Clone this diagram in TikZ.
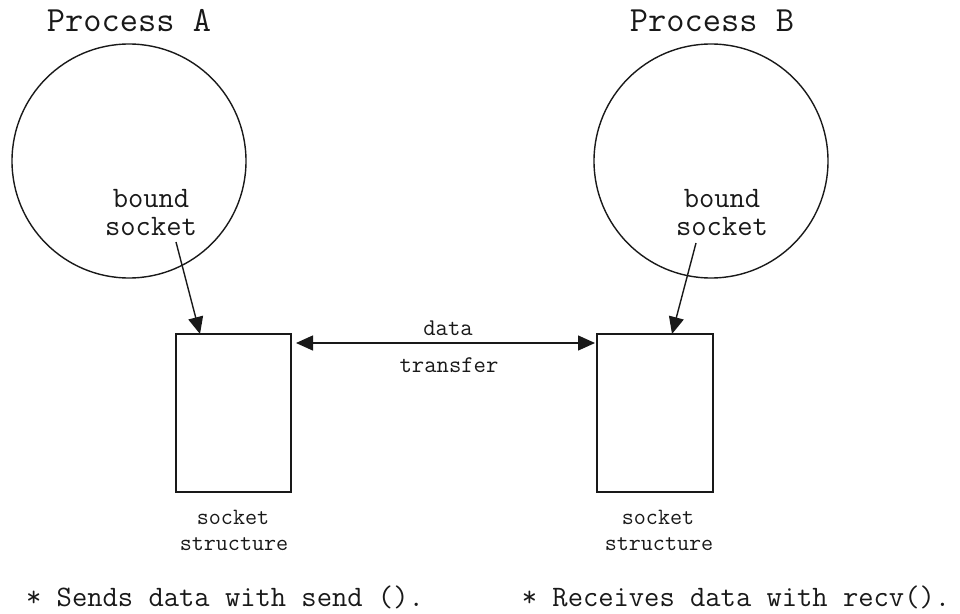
\documentclass[tikz,border=0pt]{standalone}
\usepackage{fontspec}
\usetikzlibrary{arrows.meta}
\newcommand\tsize[1]{\ttfamily\fontsize{#1}{#1}\selectfont}
\tikzset{
  outline/.style={draw=black!90, line width=1.4pt},
  proc/.style={outline, circle, minimum size=234pt, inner sep=0pt},
  sockbox/.style={outline, rectangle, minimum width=115pt, minimum height=158pt, inner sep=0pt},
  lbl/.style={inner sep=0pt, anchor=base, text=black!90},
  link/.style={line width=1.4pt, draw=black!90, -{Triangle[length=17pt,width=15pt]}},
  twoway/.style={line width=1.4pt, draw=black!90, {Triangle[length=17pt,width=15pt]}-{Triangle[length=17pt,width=15pt]}},
}
\begin{document}
\begin{tikzpicture}[x=1pt, y=-1pt]
\useasboundingbox (0,0) rectangle (960,613);

% the two processes
\node[proc] (procA) at (129,161) {};
\node[proc] (procB) at (711,161) {};
\node[lbl, font=\tsize{35.4}] (titleA) at (129,31) {Process A};
\node[lbl, font=\tsize{35.4}] (titleB) at (712,31) {Process B};

% bound sockets inside the processes
\node[lbl, font=\tsize{29.7}] (boundA) at (151,207) {bound};
\node[lbl, font=\tsize{29.7}] (sockA) at (151,235) {socket};
\node[lbl, font=\tsize{29.7}] (boundB) at (722,207) {bound};
\node[lbl, font=\tsize{29.7}] (sockB) at (722,235) {socket};

% socket structures
\node[sockbox] (boxA) at (233.5,413) {};
\node[sockbox, minimum width=116pt] (boxB) at (655,413) {};
\node[lbl, font=\tsize{23.4}] (stA1) at (233,524) {socket};
\node[lbl, font=\tsize{23.4}] (stA2) at (234,550) {structure};
\node[lbl, font=\tsize{23.4}] (stB1) at (658,524) {socket};
\node[lbl, font=\tsize{23.4}] (stB2) at (659,550) {structure};

% sockets bound to their structures
\coordinate (fromA) at (176,242);
\coordinate (fromB) at (696,243);
\coordinate (toA) at (200,334);
\coordinate (toB) at (672,334);
\draw[link] (fromA) -- (toA);
\draw[link] (fromB) -- (toB);

% data transfer between the structures
\coordinate (xferA) at (296,343);
\coordinate (xferB) at (595,343);
\draw[twoway] (xferA) -- (xferB);
\node[lbl, font=\tsize{24}] (dataL) at (448,335) {data};
\node[lbl, font=\tsize{24}] (xferL) at (449,372) {transfer};

% notes
\node[lbl, font=\tsize{29.7}] (noteA) at (225,606) {* Sends data with send ().};
\node[lbl, font=\tsize{29.7}] (noteB) at (736,606) {* Receives data with recv().};
\end{tikzpicture}
\end{document}
